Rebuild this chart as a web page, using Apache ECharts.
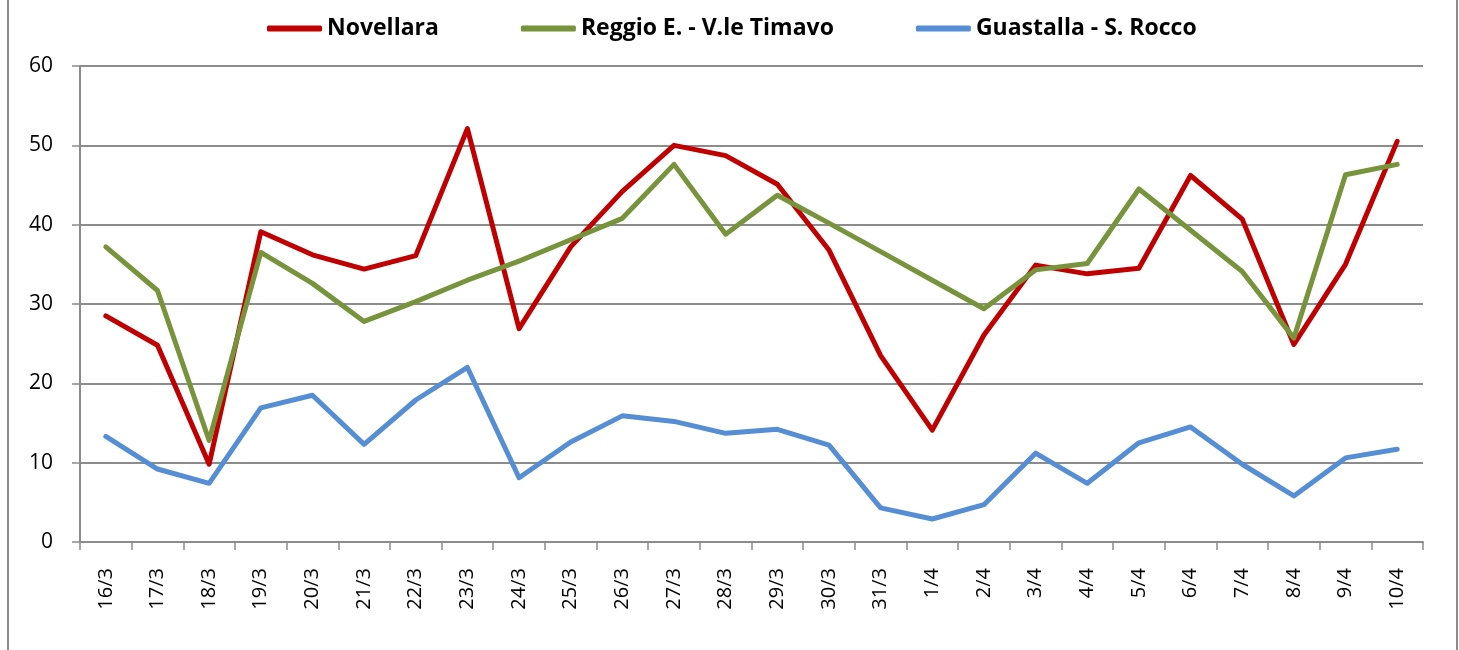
<!DOCTYPE html>
<html>
<head>
<meta charset="utf-8">
<script src="https://cdn.jsdelivr.net/npm/echarts@6/dist/echarts.min.js"></script>
<style>
  html, body { margin: 0; padding: 0; background: #fff; }
  #chart { width: 1459px; height: 650px; }
  #frame { position: absolute; left: 7px; top: 0; width: 1447px; height: 650px;
           border-left: 2px solid #8c8c8c; border-right: 2px solid #8c8c8c; pointer-events: none; }
</style>
</head>
<body>
<div id="chart"></div>
<div id="frame"></div>
<script>
	var days = ['16/3','17/3','18/3','19/3','20/3','21/3','22/3','23/3','24/3','25/3','26/3','27/3','28/3',
		'29/3','30/3','31/3','1/4','2/4','3/4','4/4','5/4','6/4','7/4','8/4','9/4','10/4'];

	var novellara = [28.5,24.8,9.8,39.1,36.2,34.4,36.1,52.1,26.9,37.2,44.2,50.0,48.7,
		45.1,36.8,23.5,14.1,26.1,34.9,33.8,34.5,46.2,40.7,24.9,35.0,50.5];

	var reggio = [37.2,31.7,12.8,36.5,32.6,27.8,30.3,33.0,35.4,38.1,40.8,47.6,38.8,
		43.7,40.2,36.6,33.0,29.4,34.3,35.1,44.5,39.3,34.1,25.7,46.3,47.6];

	var guastalla = [13.3,9.2,7.4,16.9,18.5,12.3,17.9,22.0,8.1,12.6,15.9,15.2,13.7,
		14.2,12.2,4.3,2.9,4.7,11.2,7.4,12.5,14.5,9.8,5.8,10.6,11.7];

	var names = ['Novellara','Reggio E. - V.le Timavo','Guastalla - S. Rocco'];
	var colors = ['#c00000','#77933c','#558ed5'];

	var chart = echarts.init(document.getElementById('chart'));

	function mkSeries(name, data, color){
		return {
			name: name,
			type: 'line',
			data: data,
			symbol: 'none',
			animation: false,
			lineStyle: { color: color, width: 5, cap: 'round', join: 'round' },
			itemStyle: { color: color }
		};
	}

	var option = {
		backgroundColor: '#fff',
		textStyle: { fontFamily: 'Open Sans' },
		legend: {
			top: 12,
			left: 262,
			icon: 'roundRect',
			itemWidth: 55,
			itemHeight: 6,
			itemGap: 82,
			textStyle: { fontSize: 23, fontWeight: 'bold', color: '#000', fontFamily: 'Open Sans' },
			data: names
		},
		grid: { left: 80, right: 36, top: 66, bottom: 108 },
		xAxis: {
			type: 'category',
			data: days,
			boundaryGap: true,
			axisLine: { lineStyle: { color: '#8c8c8c', width: 2 } },
			axisTick: { show: true, length: 8, lineStyle: { color: '#8c8c8c', width: 1.5 } },
			axisLabel: { rotate: 90, fontSize: 20, color: '#000', margin: 26, interval: 0 }
		},
		yAxis: {
			type: 'value',
			min: 0,
			max: 60,
			interval: 10,
			axisLine: { show: true, lineStyle: { color: '#8c8c8c', width: 2 } },
			axisTick: { show: true, length: 8, lineStyle: { color: '#8c8c8c', width: 1.5 } },
			axisLabel: { fontSize: 21, color: '#000', margin: 27 },
			splitLine: { lineStyle: { color: '#8c8c8c', width: 2 } }
		},
		series: [
			mkSeries(names[0], novellara, colors[0]),
			mkSeries(names[1], reggio, colors[1]),
			mkSeries(names[2], guastalla, colors[2])
		]
	};

	chart.setOption(option);
</script>
</body>
</html>
